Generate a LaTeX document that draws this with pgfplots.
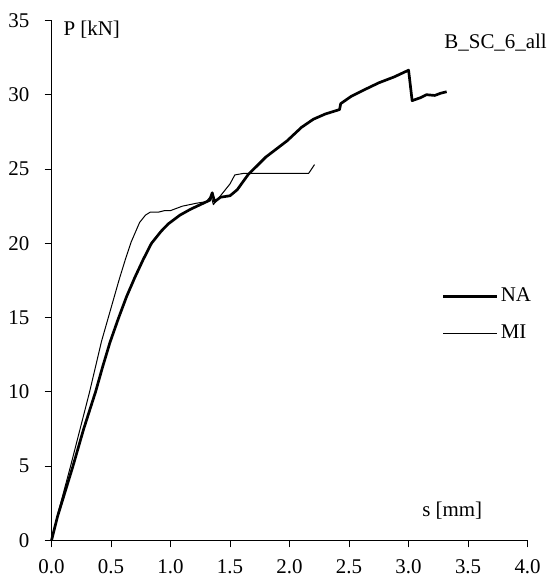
\documentclass[border=0pt]{standalone}
\usepackage{pgfplots}
\pgfplotsset{compat=1.18}
\usepackage{fontspec}
\setmainfont{Liberation Serif}
\begin{document}
\fontsize{21}{24}\selectfont
\begin{tikzpicture}
\begin{axis}[
  name=ax,
  scale only axis,
  width=476bp, height=520bp,
  xmin=0, xmax=4, ymin=0, ymax=35,
  xtick={0,0.5,...,4.0},
  ytick={0,5,...,35},
  x tick label style={/pgf/number format/fixed, /pgf/number format/fixed zerofill, /pgf/number format/precision=1, yshift=-5bp},
  y tick label style={xshift=-8bp},
  /pgf/number format/assume math mode=true,
  tick label style={font=\fontsize{21}{24}\selectfont},
  axis lines*=left,
  axis line style={-, line width=1pt},
  tick align=outside,
  tick style={black, line width=1pt},
  major tick length=7bp,
  xtick pos=bottom, ytick pos=left,
  clip=false,
  legend style={draw=none, fill=none, at={(rel axis cs:0.82,0.49)}, anchor=north west, row sep=16bp, font=\fontsize{21}{24}\selectfont, inner sep=0pt},
  legend cell align=left,
  legend image code/.code={\draw[#1] (0bp,0bp) -- (54bp,0bp);},
]
\addplot[black, line width=2.7pt, line join=round] coordinates {
(0,0) (0.05,1.6) (0.18,5) (0.27,7.5) (0.37,10) (0.43,11.7) (0.49,13.3)
(0.56,14.9) (0.63,16.4) (0.70,17.7) (0.77,18.9) (0.84,20.0) (0.92,20.8) (0.98,21.3)
(1.08,21.9) (1.17,22.3) (1.25,22.6) (1.33,22.9) (1.35,23.4) (1.37,22.8)
(1.42,23.1) (1.50,23.2) (1.56,23.6) (1.65,24.6) (1.80,25.8) (1.98,26.9)
(2.10,27.8) (2.20,28.35) (2.30,28.7) (2.42,29.0) (2.43,29.4) (2.52,29.9)
(2.62,30.3) (2.75,30.8) (2.88,31.2) (3.0,31.65) (3.03,29.6) (3.10,29.8)
(3.15,30.0) (3.22,29.95) (3.27,30.1) (3.32,30.2)
};
\addlegendentry{NA}
\addplot[black, line width=1.0pt, line join=round] coordinates {
(0,0) (0.05,1.7) (0.16,5) (0.24,7.5) (0.32,10) (0.37,11.7) (0.42,13.4) (0.47,14.8)
(0.52,16.2) (0.57,17.6) (0.62,18.9) (0.67,20.1) (0.74,21.4) (0.79,21.9) (0.83,22.1)
(0.9,22.1) (0.95,22.2) (1.0,22.2) (1.1,22.5) (1.22,22.7) (1.30,22.8)
(1.34,23.2) (1.36,22.6) (1.40,23.0) (1.44,23.4) (1.50,24.0) (1.54,24.6)
(1.61,24.7) (2.16,24.7) (2.21,25.3)
};
\addlegendentry{MI}
\node[anchor=north west, inner sep=0pt] at (rel axis cs:0.025,1) {P [kN]};
\node[anchor=south east, inner sep=0pt] at (rel axis cs:0.905,0.04) {s [mm]};
\node[anchor=north west, inner sep=0pt] at (rel axis cs:0.825,0.975) {B\_SC\_6\_all};
\coordinate (o) at (rel axis cs:0,0);
\coordinate (t) at (rel axis cs:1,1);
\end{axis}
\pgfresetboundingbox
\path[use as bounding box] ([xshift=-51.5bp,yshift=-43.5bp]o) rectangle ([xshift=27.5bp,yshift=20.4bp]t);
\end{tikzpicture}
\end{document}
